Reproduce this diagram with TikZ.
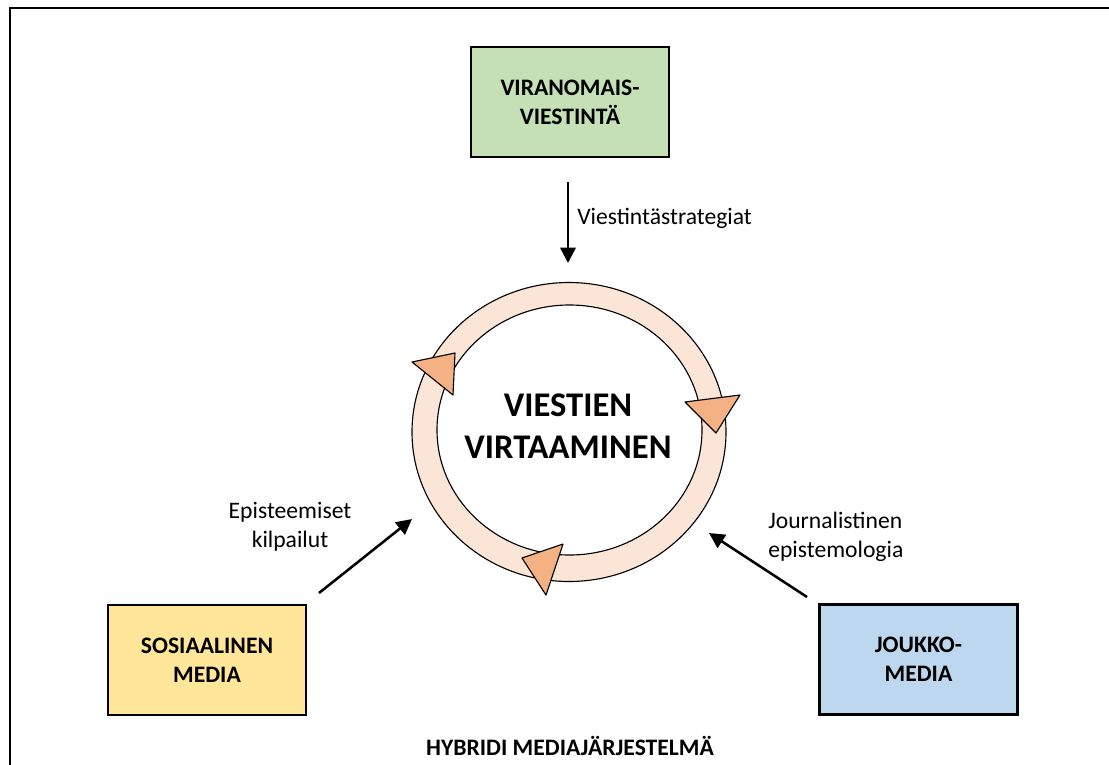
\documentclass[tikz,border=0pt]{standalone}
\usepackage{fontspec}
\setmainfont{Carlito}
\usetikzlibrary{arrows.meta}
\definecolor{authgreen}{HTML}{C5E0B4}
\definecolor{somayellow}{HTML}{FFE699}
\definecolor{massblue}{HTML}{BDD7EE}
\definecolor{ringpeach}{HTML}{FBE5D6}
\definecolor{headorange}{HTML}{F4B183}

\begin{document}
\begin{tikzpicture}[x=0.025cm,y=-0.025cm]
		\tikzset{
			box/.style = {draw, line width=1.9pt, minimum width=4.95cm, minimum height=2.75cm, align=center, inner sep=0pt, font=\fontsize{16.8}{20.5}\selectfont\bfseries},
			lbl/.style = {align=center, inner sep=0pt, font=\fontsize{16.8}{20.5}\selectfont},
			flow/.style = {line width=1.8pt, -{Triangle[length=11pt,width=11pt]}},
			head/.style = {draw, fill=headorange, line width=0.8pt, line join=round}
		}
		\useasboundingbox (0,0) rectangle (1109,764);
		\draw [line width=1.4pt] (10,790) -- (10,8) -- (1130,8);
		% the ring
		\fill [ringpeach, even odd rule] (569,432) ellipse [x radius=157, y radius=149.5]
			(569.5,430) ellipse [x radius=132.5, y radius=125];
		\draw [line width=0.8pt] (569,432) ellipse [x radius=157, y radius=149.5];
		\draw [line width=0.8pt] (569.5,430) ellipse [x radius=132.5, y radius=125];
		\draw [head] (412,362) -- (455,353) -- (453,395) -- cycle;
		\draw [head] (685,402) -- (740,395) -- (716,433) -- cycle;
		\draw [head] (522,558) -- (563,544) -- (546,595) -- cycle;
		\node [align=center, inner sep=0pt, font=\fontsize{24.6}{29.5}\selectfont\bfseries] (flowing) at (568,426) {VIESTIEN\\VIRTAAMINEN};
		% the three sources
		\node [box, fill=authgreen] (authority) at (570,102) {VIRANOMAIS-\\VIESTINTÄ};
		\node [box, fill=somayellow] (social) at (207,660) {SOSIAALINEN\\MEDIA};
		\node [box, fill=massblue] (mass) at (918.5,659.5) {JOUKKO-\\MEDIA};
		\coordinate (top1) at (568,182);
		\coordinate (top2) at (568,263);
		\coordinate (left1) at (319,593);
		\coordinate (left2) at (412,519);
		\coordinate (right1) at (807,597);
		\coordinate (right2) at (709,533);
		\draw [flow] (top1) -- (top2);
		\draw [flow] (left1) -- (left2);
		\draw [flow] (right1) -- (right2);
		\node [lbl, anchor=west] (strategies) at (577,218) {Viestintästrategiat};
		\node [lbl] (contests) at (290,527) {Episteemiset\\kilpailut};
		\node [lbl, anchor=west, align=left] (journalism) at (768,537) {Journalistinen\\epistemologia};
		\node [inner sep=0pt, font=\fontsize{16.8}{20.5}\selectfont\bfseries] (hybrid) at (570,746) {HYBRIDI MEDIAJÄRJESTELMÄ};
\end{tikzpicture}
\end{document}
